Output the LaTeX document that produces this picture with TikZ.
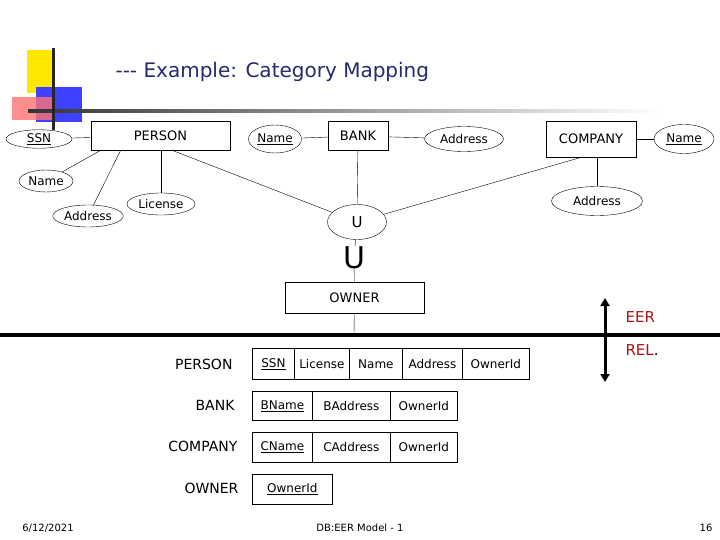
\documentclass[tikz,border=0pt]{standalone}
\usepackage{fontspec}
\setmainfont{DejaVu Sans}
\usetikzlibrary{shapes.geometric,arrows.meta}
\definecolor{navy}{RGB}{40,40,110}
\definecolor{eer}{RGB}{170,20,20}
\tikzset{
  ent/.style={draw, thick, minimum height=29pt, inner sep=2pt, font=\fontsize{13}{13}\selectfont},
  att/.style={draw, ellipse, inner sep=1pt, font=\fontsize{12}{12}\selectfont},
  cell/.style={draw, thick, anchor=north west, font=\fontsize{12}{12}\selectfont},
  lab/.style={anchor=east, font=\fontsize{14}{14}\selectfont},
  ln/.style={thin},
}
\newcommand{\ul}[1]{\underline{#1}}
\begin{document}
\begin{tikzpicture}[x=1pt,y=-1pt]
\useasboundingbox (0,0) rectangle (720,540);
% decoration
\fill[yellow!90!orange] (27,50) rectangle (52,93);
\fill[blue!75] (36,87) rectangle (82,122);
\fill[red!55, opacity=0.8] (12,97) rectangle (52,120);
\shade[left color=black!80, right color=white] (28,110) rectangle (660,113);
\fill[black!85] (52,48) rectangle (55,130);
\node[anchor=west, text=navy, font=\fontsize{20}{20}\selectfont] (title) at (112,72) {{-}{-}{-} Example: Category Mapping};

% EER part
\node[ent, minimum width=139pt] (person) at (160.5,135.5) {PERSON};
\node[ent, minimum width=60pt] (bank) at (358,136) {BANK};
\node[ent, minimum width=90pt, minimum height=36pt] (company) at (591,139) {COMPANY};
\node[ent, minimum width=139pt, minimum height=31pt] (owner) at (354.5,297.5) {OWNER};
\node[att, minimum width=66pt, minimum height=16pt] (ssn) at (39,139) {\ul{SSN}};
\node[att, minimum width=54pt, minimum height=22pt] (pname) at (46,181) {Name};
\node[att, minimum width=66pt, minimum height=22pt] (paddr) at (88,216) {Address};
\node[att, minimum width=68pt, minimum height=22pt] (lic) at (161,204) {License};
\node[att, minimum width=53pt, minimum height=28pt] (bname) at (275,139) {\ul{Name}};
\node[att, minimum width=79pt, minimum height=25pt] (baddr) at (464,139) {Address};
\node[att, minimum width=60pt, minimum height=29pt] (cname) at (684,139) {\ul{Name}};
\node[att, minimum width=91pt, minimum height=29pt] (caddr) at (597,201) {Address};
\node[att, minimum width=59pt, minimum height=35pt, font=\fontsize{15}{15}\selectfont] (u) at (357,222) {U};
\node[font=\fontsize{30}{30}\selectfont, inner sep=0pt] (sub) at (354,258) {U};

\draw[ln] (ssn) -- (person);
\draw[ln] (pname) -- ([xshift=10pt]person.south west);
\draw[ln] (paddr) -- ([xshift=30pt]person.south west);
\draw[ln] (lic) -- (lic|-person.south);
\draw[ln] (bname) -- (bank);
\draw[ln] (bank) -- (baddr);
\draw[ln] (company) -- (cname);
\draw[ln] (caddr) -- (caddr|-company.south);
\draw[ln] ([xshift=-58pt]person.south east) -- (u);
\draw[ln] (bank) -- (u);
\draw[ln] ([xshift=-10pt]company.south) -- (u);
\draw[ln] (u) -- (sub);
\draw[ln] (sub) -- (owner);
\coordinate (ob) at (354,333);
\draw[ln] (owner) -- (ob);

% separator and arrow
\fill (0,333) rectangle (720,337);
\coordinate (at) at (605,298);
\coordinate (ab) at (605,382);
\draw[line width=3pt, {Triangle[length=8pt,width=9pt]}-{Triangle[length=8pt,width=9pt]}] (at) -- (ab);
\node[anchor=west, text=eer, font=\fontsize{15}{15}\selectfont] (eerl) at (622,317) {EER};
\node[anchor=west, text=eer, font=\fontsize{15}{15}\selectfont] (rel) at (622,350) {REL\textcolor{black}{.}};

% relations
\node[lab] (lp) at (236,364) {PERSON};
\node[cell, minimum width=42pt, minimum height=31pt] (p1) at (252,348) {\ul{SSN}};
\node[cell, minimum width=55pt, minimum height=31pt] (p2) at (294,348) {License};
\node[cell, minimum width=53pt, minimum height=31pt] (p3) at (349,348) {Name};
\node[cell, minimum width=60pt, minimum height=31pt] (p4) at (402,348) {Address};
\node[cell, minimum width=67pt, minimum height=31pt] (p5) at (462,348) {OwnerId};
\node[lab] (lb) at (238,405) {BANK};
\node[cell, minimum width=60pt, minimum height=29pt] (b1) at (252,391) {\ul{BName}};
\node[cell, minimum width=78pt, minimum height=29pt] (b2) at (312,391) {BAddress};
\node[cell, minimum width=67pt, minimum height=29pt] (b3) at (390,391) {OwnerId};
\node[lab] (lc) at (241,446) {COMPANY};
\node[cell, minimum width=60pt, minimum height=30pt] (c1) at (252,432) {\ul{CName}};
\node[cell, minimum width=78pt, minimum height=30pt] (c2) at (312,432) {CAddress};
\node[cell, minimum width=67pt, minimum height=30pt] (c3) at (390,432) {OwnerId};
\node[lab] (lo) at (242,488) {OWNER};
\node[cell, minimum width=80pt, minimum height=30pt] (o1) at (252,474) {\ul{OwnerId}};

% footer
\node[font=\fontsize{10}{10}\selectfont] (date) at (48,528) {6/12/2021};
\node[font=\fontsize{10}{10}\selectfont] (foot) at (360,528) {DB:EER Model - 1};
\node[font=\fontsize{10}{10}\selectfont] (pg) at (706,528) {16};
\end{tikzpicture}
\end{document}
